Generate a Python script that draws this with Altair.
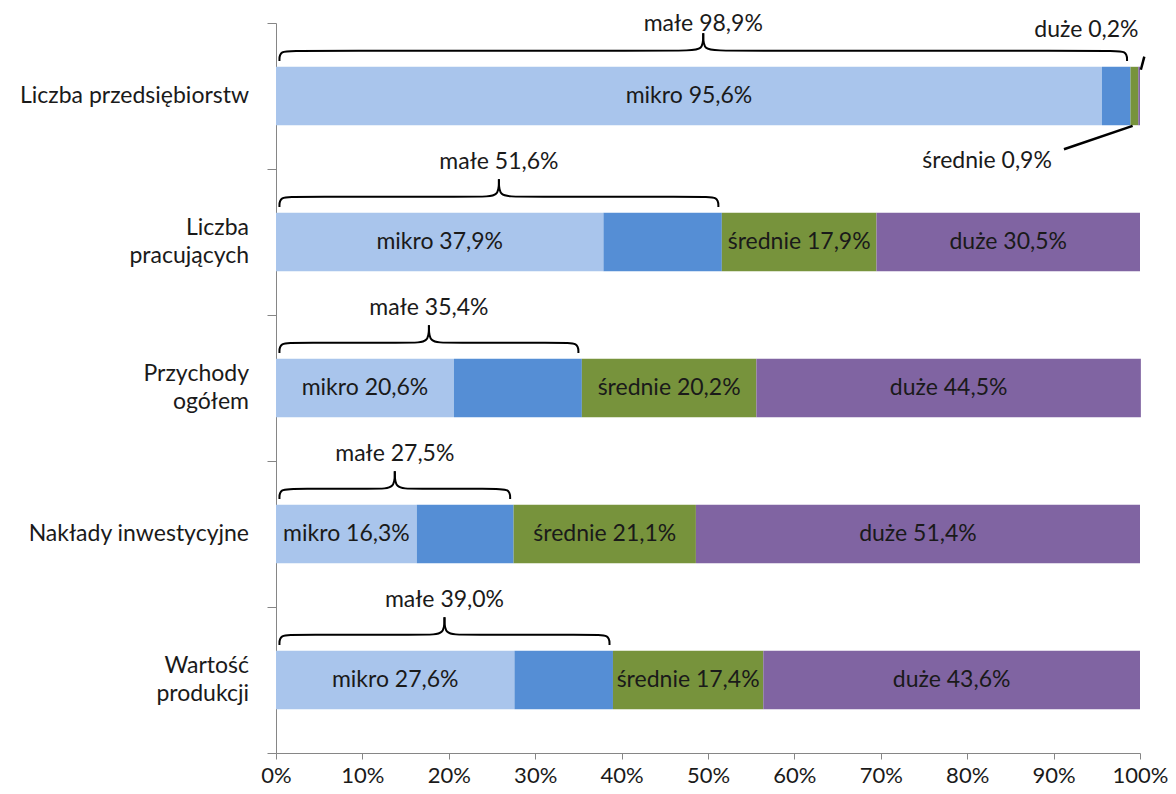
import altair as alt
import pandas as pd

# ---- data ----
categories = ["Liczba przedsiębiorstw", "Liczba\npracujących", "Przychody\nogółem",
              "Nakłady inwestycyjne", "Wartość\nprodukcji"]
mikro = [95.6, 37.9, 20.6, 16.3, 27.6]
male_total = [98.9, 51.6, 35.4, 27.5, 39.0]      # mikro + małe (brace value)
srednie = [0.9, 17.9, 20.2, 21.1, 17.4]
duze = [0.2, 30.5, 44.5, 51.4, 43.6]

seg_names = ["mikro", "małe", "średnie", "duże"]
seg_colors = ["#A9C5EC", "#558ED5", "#77933C", "#8064A2"]

FONT = "Lato"
FS = 23
TXT = "#1a1a1a"
AX = "#868686"


def pl(v):
    return f"{v:.1f}".replace(".", ",") + "%"


# ---- segments ----
rows = []
for i in range(len(categories)):
    male_seg = male_total[i] - mikro[i]
    vals = [mikro[i], male_seg, srednie[i], duze[i]]
    start = 0.0
    for name, v in zip(seg_names, vals):
        end = start + v
        show = name != "małe" and not (i == 0 and name in ("średnie", "duże"))
        label = f"{name} {pl(v)}" if show else ""
        rows.append(dict(seg=name, x0=start, x1=end, xm=(start + end) / 2,
                         y0=i + 0.3, y1=i + 0.7, ym=i + 0.5, label=label))
        start = end
seg_df = pd.DataFrame(rows)

# ---- braces (from 0 to mikro+małe) ----
brace = []
for i, tot in enumerate(male_total):
    top = i + 0.3
    yb, ytip, ycusp = top - 0.11, top - 0.04, top - 0.23
    xm = tot / 2
    w = 2.0
    halves = {
        "L": [(0.4, ytip), (0.4, yb), (0.4 + w, yb), (xm - w, yb), (xm, yb), (xm, ycusp)],
        "R": [(tot - 0.4, ytip), (tot - 0.4, yb), (tot - 0.4 - w, yb), (xm + w, yb), (xm, yb), (xm, ycusp)],
    }
    for h, pts in halves.items():
        for o, (px, py) in enumerate(pts):
            brace.append(dict(key=f"{i}{h}", o=o, x=px, y=py))
brace_df = pd.DataFrame(brace)

brace_lbl = pd.DataFrame(dict(x=[t / 2 for t in male_total],
                              y=[max(i - 0.05, 0.01) for i in range(len(male_total))],
                              label=[f"małe {pl(t)}" for t in male_total]))

# category labels, one text per line, centred on the band
cat_rows = []
for i, c in enumerate(categories):
    lines = c.split("\n")
    n = len(lines)
    for k, ln in enumerate(lines):
        cat_rows.append(dict(y=i + 0.5 + (k - (n - 1) / 2) * 0.19, label=ln))
cat_df = pd.DataFrame(cat_rows)

# ---- first-row outside labels (średnie, duże) ----
end_sr = male_total[0] + srednie[0]
lead_df = pd.DataFrame([
    dict(key="sr", o=0, x=male_total[0] + srednie[0] / 2 - 0.2, y=0.705),
    dict(key="sr", o=1, x=91.2, y=0.865),
    dict(key="du", o=0, x=end_sr + duze[0] + 0.5, y=0.23),
    dict(key="du", o=1, x=end_sr + duze[0] + 0.1, y=0.32),
])
out_lbl = pd.DataFrame([
    dict(x=82.3, y=0.945, label=f"średnie {pl(srednie[0])}"),
    dict(x=93.8, y=0.05, label=f"duże {pl(duze[0])}"),
])

xscale = alt.Scale(domain=[0, 100], nice=False)
yscale = alt.Scale(domain=[0, 5], reverse=True, nice=False)
xaxis = alt.Axis(values=list(range(0, 101, 10)), labelExpr="datum.value + '%'",
                 tickSize=6, labelFontSize=22, labelPadding=6, labelColor=TXT,
                 labelFont=FONT, labelFlush=False, labelOverlap=False,
                 domainColor=AX, tickColor=AX, grid=False, title=None)
yaxis = alt.Axis(values=[0, 1, 2, 3, 4, 5], labels=False, tickSize=9,
                 domainColor=AX, tickColor=AX, grid=False, title=None)


def X(f):
    return alt.X(f, scale=xscale, axis=xaxis, title=None)


def Y(f):
    return alt.Y(f, scale=yscale, axis=yaxis, title=None)


bars = alt.Chart(seg_df).mark_rect().encode(
    x=X("x0:Q"), x2="x1:Q", y=Y("y0:Q"), y2="y1:Q",
    color=alt.Color("seg:N", scale=alt.Scale(domain=seg_names, range=seg_colors), legend=None),
)

seg_text = alt.Chart(seg_df).mark_text(font=FONT, fontSize=FS, color=TXT).encode(
    x=X("xm:Q"), y=Y("ym:Q"), text="label:N"
)

braces = alt.Chart(brace_df).mark_line(interpolate="basis", color="black", strokeWidth=2).encode(
    x=X("x:Q"), y=Y("y:Q"), detail="key:N", order="o:Q"
)

brace_text = alt.Chart(brace_lbl).mark_text(font=FONT, fontSize=FS, color=TXT).encode(
    x=X("x:Q"), y=Y("y:Q"), text="label:N"
)

leaders = alt.Chart(lead_df).mark_line(color="black", strokeWidth=2.5).encode(
    x=X("x:Q"), y=Y("y:Q"), detail="key:N", order="o:Q"
)

out_text = alt.Chart(out_lbl).mark_text(font=FONT, fontSize=FS, color=TXT).encode(
    x=X("x:Q"), y=Y("y:Q"), text="label:N"
)

cat_text = alt.Chart(cat_df).mark_text(font=FONT, fontSize=FS, color=TXT, align="right").encode(
    x=alt.value(-27), y=Y("y:Q"), text="label:N"
)

chart = alt.layer(bars, seg_text, braces, brace_text, leaders, out_text, cat_text).properties(
    width=864, height=730,
    autosize=alt.AutoSizeParams(type="none"),
    padding={"left": 268, "top": 15, "right": 28, "bottom": 33},
    background="white",
).configure_view(stroke=None)

chart.save("out.html", embed_options={"renderer": "svg", "actions": False})
